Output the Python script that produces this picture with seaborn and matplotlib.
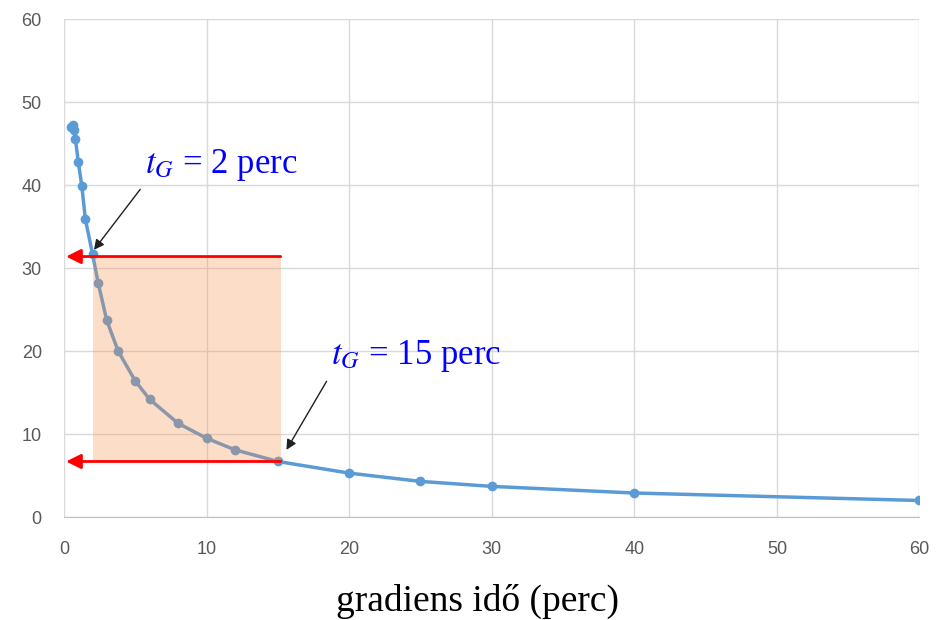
import numpy as np
import pandas as pd
import matplotlib
matplotlib.use('Agg')
import matplotlib.pyplot as plt
from matplotlib import font_manager
import seaborn as sns

# gradient time (min) vs. value
t_grad = [0.5, 0.6, 0.7, 0.8, 1.0, 1.25, 1.5, 2.0, 2.4, 3.0, 3.8, 5.0, 6.0, 8.0,
          10.0, 12.0, 15.0, 20.0, 25.0, 30.0, 40.0, 60.0]
values = [47.0, 47.3, 46.7, 45.6, 42.8, 39.9, 35.9, 31.7, 28.2, 23.7, 20.0, 16.4,
          14.2, 11.3, 9.5, 8.1, 6.7, 5.3, 4.3, 3.7, 2.9, 2.0]

# the two marked gradient times and their read values
mark_t = [2.0, 15.0]
mark_y = [31.4, 6.7]

x_ticks = [0, 10, 20, 30, 40, 50, 60]
y_ticks = [0, 10, 20, 30, 40, 50, 60]

df = pd.DataFrame({'t': t_grad, 'y': values})

sns.set_style('white')
plt.rcParams['mathtext.fontset'] = 'stix'

# narrow tick font if it is there, plain Liberation Sans otherwise
names = {f.name for f in font_manager.fontManager.ttflist}
if 'Liberation Sans Narrow' in names:
    tick_font, tick_size = 'Liberation Sans Narrow', 15
else:
    tick_font, tick_size = 'Liberation Sans', 13

fig = plt.figure(figsize=(9.37, 6.2), dpi=100)
ax = fig.add_axes([0.0683, 0.166, 0.913, 0.803])

sns.lineplot(data=df, x='t', y='y', marker='o', color='#5B9BD5', linewidth=2.5,
             markersize=7, markeredgewidth=0, ax=ax, zorder=3)

# shaded region between the two gradient times
ax.fill_between([mark_t[0], mark_t[1] + 0.2], mark_y[1], mark_y[0],
                color='#F89148', alpha=0.3, linewidth=0, zorder=4)

# red arrows back to the y axis
for yv in mark_y:
    ax.annotate('', xy=(0.15, yv), xytext=(mark_t[1] + 0.2, yv),
                arrowprops=dict(arrowstyle='-|>', color='red', lw=2,
                                mutation_scale=22, shrinkA=0, shrinkB=0),
                zorder=5)

blue_txt = '#0000FF'
ax.annotate('$t_G$ = 2 perc', xy=(2.1, 32.2), xytext=(5.7, 41.5),
            fontsize=25, color=blue_txt, family='Liberation Serif',
            arrowprops=dict(arrowstyle='-|>', color='#202020', lw=1,
                            mutation_scale=15, shrinkA=3, shrinkB=0,
                            relpos=(0, 0)),
            zorder=6)
ax.annotate('$t_G$ = 15 perc', xy=(15.6, 8.1), xytext=(18.7, 18.4),
            fontsize=25, color=blue_txt, family='Liberation Serif',
            arrowprops=dict(arrowstyle='-|>', color='#202020', lw=1,
                            mutation_scale=15, shrinkA=3, shrinkB=0,
                            relpos=(0, 0)),
            zorder=6)

ax.set_xlim(0, 60)
ax.set_ylim(0, 60)
ax.set_xticks(x_ticks)
ax.set_yticks(y_ticks)
ax.grid(True, color='#D9D9D9', linewidth=1)
ax.set_axisbelow(True)
for side in ['top', 'right', 'left']:
    ax.spines[side].set_visible(False)
ax.spines['bottom'].set_color('#BFBFBF')
ax.tick_params(axis='both', length=0, labelsize=tick_size, labelcolor='#595959')
ax.tick_params(axis='x', pad=17)
ax.tick_params(axis='y', pad=16)
for lab in ax.get_xticklabels() + ax.get_yticklabels():
    lab.set_family([tick_font, 'DejaVu Sans'])

ax.set_xlabel('gradiens idő (perc)', fontsize=27, family='Liberation Serif',
              color='black', labelpad=19)
ax.xaxis.label.set_x(0.483)
ax.set_ylabel('')

fig.savefig('out.png', dpi=100)
